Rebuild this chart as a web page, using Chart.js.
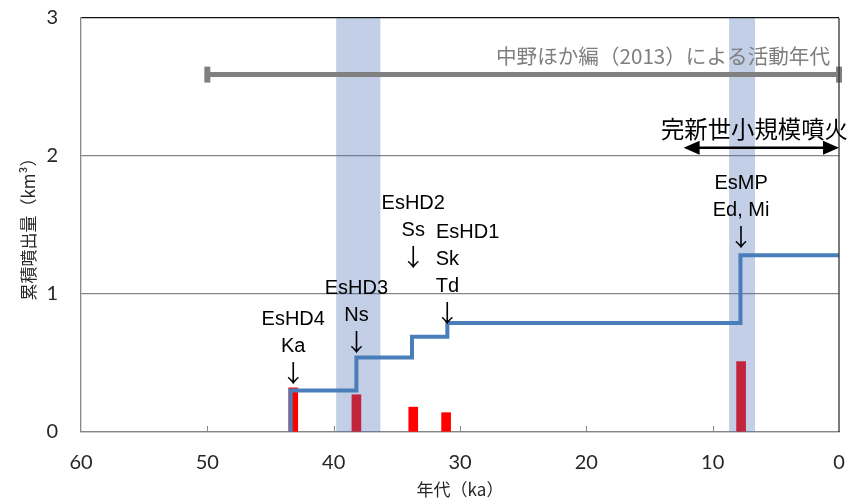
<!DOCTYPE html>
<html>
<head>
<meta charset="utf-8">
<script src="https://cdn.jsdelivr.net/npm/chart.js@4"></script>
<style>
  html, body { margin: 0; padding: 0; background: #fff; }
  #wrap { width: 854px; height: 501px; position: relative; }
</style>
</head>
<body>
<div id="wrap"><canvas id="chart" width="854" height="501"></canvas></div>
<script>
// eruptions: age (ka) and erupted volume (km3)
const eruptionAges = [43.2, 38.2, 33.7, 31.1, 7.75];
const eruptionVolumes = [0.32, 0.27, 0.18, 0.14, 0.51];

// cumulative volume curve: corner ages and the level reached there
const stepAges = [43.4, 38.2, 33.8, 31.0, 7.8, 0];
const stepLevels = [0, 0.30, 0.54, 0.69, 0.79, 1.28];

// shaded periods (ka)
const bandRanges = [[39.8, 36.3], [8.7, 6.65]];

// activity period after Nakano et al. (2013)
const activityAges = [50, 0];
const activityLevel = 2.59;
const activityText = '中野ほか編（2013）による活動年代';

// Holocene small eruptions
const holoceneAges = [12.3, 0];
const holoceneLevel = 2.06;
const holoceneText = '完新世小規模噴火';

const xTickValues = [60, 50, 40, 30, 20, 10, 0];
const yTickValues = [0, 1, 2, 3];

// eruption labels: text lines, placed above an arrow
const labelGroups = [
  { age: 43.2, lines: ['EsHD4', 'Ka'] },
  { age: 38.2, lines: ['EsHD3', 'Ns'] },
  { age: 33.7, lines: ['EsHD2', 'Ss'] },
  { age: 31.0, lines: ['Sk', 'Td'] },
  { age: 7.75, lines: ['EsMP', 'Ed, Mi'] }
];
const extraLabels = [{ age: 29.4, text: 'EsHD1' }];

// --- layout (pixel y of the arrow glyph centre for each group) ---
const arrowY = [373, 342, 257, 313, 237];
const lineGap = 27;

const latinFont = '"Liberation Sans", "Noto Sans CJK JP", sans-serif';
const cjkFont = '"Noto Sans CJK JP", sans-serif';

const overlay = {
  id: 'overlay',
  afterDatasetDraw(chart, args) {
    if (args.meta.type !== 'bar') return;
    const { ctx, chartArea, scales: { x } } = chart;
    ctx.save();
    ctx.fillStyle = 'rgba(70,110,180,0.33)';
    bandRanges.forEach(([a, b]) => {
      const x1 = x.getPixelForValue(a), x2 = x.getPixelForValue(b);
      ctx.fillRect(x1, chartArea.top, x2 - x1, chartArea.bottom - chartArea.top);
    });
    ctx.restore();
  },
  afterDraw(chart) {
    const { ctx, chartArea, scales: { x, y } } = chart;
    ctx.save();

    // right frame
    ctx.strokeStyle = '#333';
    ctx.lineWidth = 1.3;
    ctx.beginPath();
    ctx.moveTo(chartArea.right, chartArea.top);
    ctx.lineTo(chartArea.right, chartArea.bottom);
    ctx.stroke();

    // inward tick marks on the age axis
    ctx.strokeStyle = '#868686';
    ctx.lineWidth = 1;
    xTickValues.forEach(v => {
      if (v === 60 || v === 0) return;
      const px = Math.round(x.getPixelForValue(v)) + 0.5;
      ctx.beginPath();
      ctx.moveTo(px, chartArea.bottom);
      ctx.lineTo(px, chartArea.bottom - 6);
      ctx.stroke();
    });

    // activity text
    ctx.fillStyle = '#7f7f7f';
    ctx.font = '20.6px ' + cjkFont;
    ctx.textAlign = 'right';
    ctx.textBaseline = 'middle';
    ctx.fillText(activityText, 830, y.getPixelForValue(activityLevel) - 18);

    // Holocene double arrow
    const ay = y.getPixelForValue(holoceneLevel);
    const ax1 = x.getPixelForValue(holoceneAges[0]);
    const ax2 = x.getPixelForValue(holoceneAges[1]);
    ctx.strokeStyle = '#000';
    ctx.fillStyle = '#000';
    ctx.lineWidth = 2.5;
    ctx.beginPath();
    ctx.moveTo(ax1 + 10, ay);
    ctx.lineTo(ax2 - 10, ay);
    ctx.stroke();
    ctx.beginPath();
    ctx.moveTo(ax1, ay);
    ctx.lineTo(ax1 + 16, ay - 7);
    ctx.lineTo(ax1 + 16, ay + 7);
    ctx.closePath();
    ctx.fill();
    ctx.beginPath();
    ctx.moveTo(ax2, ay);
    ctx.lineTo(ax2 - 16, ay - 7);
    ctx.lineTo(ax2 - 16, ay + 7);
    ctx.closePath();
    ctx.fill();
    ctx.font = '23.4px ' + cjkFont;
    ctx.textAlign = 'right';
    ctx.fillText(holoceneText, 848, ay - 19);

    // eruption labels with a down arrow under each
    ctx.textAlign = 'center';
    labelGroups.forEach((g, i) => {
      const px = x.getPixelForValue(g.age);
      const n = g.lines.length;
      ctx.font = '20px ' + latinFont;
      g.lines.forEach((t, j) => {
        ctx.fillText(t, px, arrowY[i] - (n - j) * lineGap);
      });
      ctx.font = '24px ' + cjkFont;
      ctx.fillText('↓', px, arrowY[i]);
    });
    ctx.font = '20px ' + latinFont;
    extraLabels.forEach(l => {
      ctx.fillText(l.text, x.getPixelForValue(l.age), arrowY[3] - 3 * lineGap);
    });

    ctx.restore();
  }
};

const ctx = document.getElementById('chart').getContext('2d');
const chart = new Chart(ctx, {
  type: 'line',
  data: {
    datasets: [
      {
        type: 'line',
        data: stepAges.map((a, i) => ({ x: a, y: stepLevels[i] })),
        stepped: 'after',
        borderColor: '#4a7ebb',
        borderWidth: 4,
        pointRadius: 0,
        fill: false,
        order: 1
      },
      {
        type: 'line',
        data: activityAges.map(a => ({ x: a, y: activityLevel })),
        borderColor: '#808080',
        borderWidth: 5,
        pointStyle: 'line',
        rotation: 90,
        pointRadius: 8,
        pointBorderWidth: 6,
        pointBorderColor: '#808080',
        clip: false,
        order: 2
      },
      {
        type: 'bar',
        data: eruptionAges.map((a, i) => ({ x: a, y: eruptionVolumes[i] })),
        backgroundColor: '#ff0000',
        barThickness: 9,
        order: 3
      }
    ]
  },
  options: {
    responsive: false,
    animation: false,
    devicePixelRatio: 1,
    layout: { padding: { top: 18, right: 15, left: 0, bottom: 0 } },
    plugins: { legend: { display: false }, tooltip: { enabled: false } },
    scales: {
      x: {
        type: 'linear',
        reverse: true,
        min: 0,
        max: 60,
        offset: false,
        afterBuildTicks: s => { s.ticks = xTickValues.map(v => ({ value: v })); },
        afterFit: s => { s.height = 69; },
        grid: {
          display: true, drawOnChartArea: false, drawTicks: true,
          tickLength: 10, tickColor: 'rgba(0,0,0,0)'
        },
        border: { display: true, color: '#868686', width: 1.3 },
        ticks: { font: { family: 'Lato', size: 20 }, color: '#262626', padding: 9, maxRotation: 0 },
        title: {
          display: true, text: '年代（ka）',
          font: { family: 'Noto Sans CJK JP', size: 17 }, color: '#262626',
          padding: { top: 0, bottom: 1 }
        }
      },
      y: {
        min: 0,
        max: 3,
        afterBuildTicks: s => { s.ticks = yTickValues.map(v => ({ value: v })); },
        afterFit: s => { s.width = 81; },
        grid: {
          color: c => (c.tick && c.tick.value === 3 ? '#111' : '#868686'),
          lineWidth: 1.3,
          drawTicks: true,
          tickLength: 17,
          tickColor: 'rgba(0,0,0,0)'
        },
        border: { display: true, color: '#868686', width: 1.3 },
        ticks: { font: { family: 'Lato', size: 20 }, color: '#262626', padding: 6 },
        title: {
          display: true, text: '累積噴出量（km³）',
          font: { family: 'Noto Sans CJK JP', size: 17 }, color: '#262626',
          padding: { top: 18, bottom: 0 }
        }
      }
    }
  },
  plugins: [overlay]
});
</script>
</body>
</html>
